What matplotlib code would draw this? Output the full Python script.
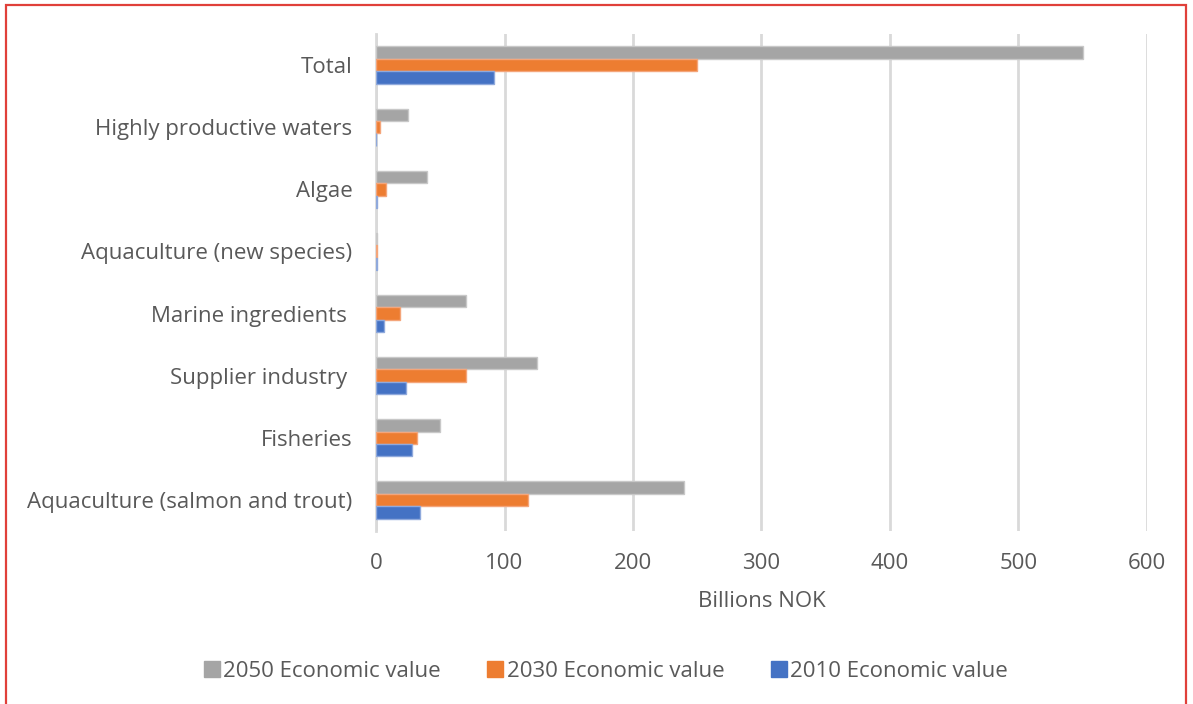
import matplotlib.pyplot as plt
import numpy as np
from matplotlib.patches import Rectangle
from matplotlib.lines import Line2D

# Sectors, bottom to top as they appear on the axis
kategoriler = ['Aquaculture (salmon and trout)', 'Fisheries', 'Supplier industry ',
               'Marine ingredients ', 'Aquaculture (new species)', 'Algae',
               'Highly productive waters', 'Total']

# Economic value, billions NOK
deger_2010 = [34, 28, 23, 6, 0.5, 0.5, 0.2, 92]
deger_2030 = [118, 32, 70, 19, 0.5, 8, 3, 250]
deger_2050 = [240, 50, 125, 70, 1, 40, 25, 550]

seriler = ['2050 Economic value', '2030 Economic value', '2010 Economic value']
renkler = ['#A5A5A5', '#ED7D31', '#4472C4']
kenarlar = ['#C8C8C8', '#F4A57A', '#8FA9DC']

yazi_rengi = '#595959'
boyut = 16
plt.rcParams['font.family'] = ['Open Sans', 'DejaVu Sans']

fig = plt.figure(figsize=(11.93, 7.04), dpi=100)
ax = fig.add_axes([0.3152, 0.2457, 0.9614 - 0.3152, 0.9517 - 0.2457])

y = np.arange(len(kategoriler))
h = 0.2
ax.barh(y + h, deger_2050, height=h, color=renkler[0], edgecolor=kenarlar[0], linewidth=1, zorder=3)
ax.barh(y, deger_2030, height=h, color=renkler[1], edgecolor=kenarlar[1], linewidth=1, zorder=3)
ax.barh(y - h, deger_2010, height=h, color=renkler[2], edgecolor=kenarlar[2], linewidth=1, zorder=3)

ax.set_xlim(0, 600)
ax.set_ylim(-0.5, len(kategoriler) - 0.5)
ax.set_xticks(range(0, 601, 100))
ax.set_yticks(y)
ax.set_yticklabels(kategoriler)
ax.xaxis.grid(True, color='#D9D9D9', linewidth=2, zorder=0)
ax.set_axisbelow(True)
for s in ['top', 'right', 'bottom']:
    ax.spines[s].set_visible(False)
ax.spines['left'].set_color('#D9D9D9')
ax.spines['left'].set_linewidth(2)
ax.tick_params(axis='both', length=0, labelsize=boyut, labelcolor=yazi_rengi)
ax.tick_params(axis='x', pad=16)
ax.tick_params(axis='y', pad=17)
ax.set_xlabel('Billions NOK', fontsize=boyut, color=yazi_rengi, labelpad=12)

# Legend with square handles
kutular = [Line2D([0], [0], marker='s', linestyle='none', markersize=11,
                  markerfacecolor=c, markeredgecolor=c) for c in renkler]
fig.legend(kutular, seriler, loc='center', bbox_to_anchor=(0.507, 0.046), ncol=3,
           frameon=False, fontsize=boyut, labelcolor=yazi_rengi, handletextpad=0.05,
           columnspacing=2.0, handlelength=0.9)

# Red frame around the chart
fig.patches.append(Rectangle((6 / 1193, -0.05), (1186 - 6) / 1193, 1 + 0.05 - 5 / 704,
                             transform=fig.transFigure, fill=False,
                             edgecolor='#E0403A', linewidth=1.6))

fig.savefig('out.png', dpi=100)
